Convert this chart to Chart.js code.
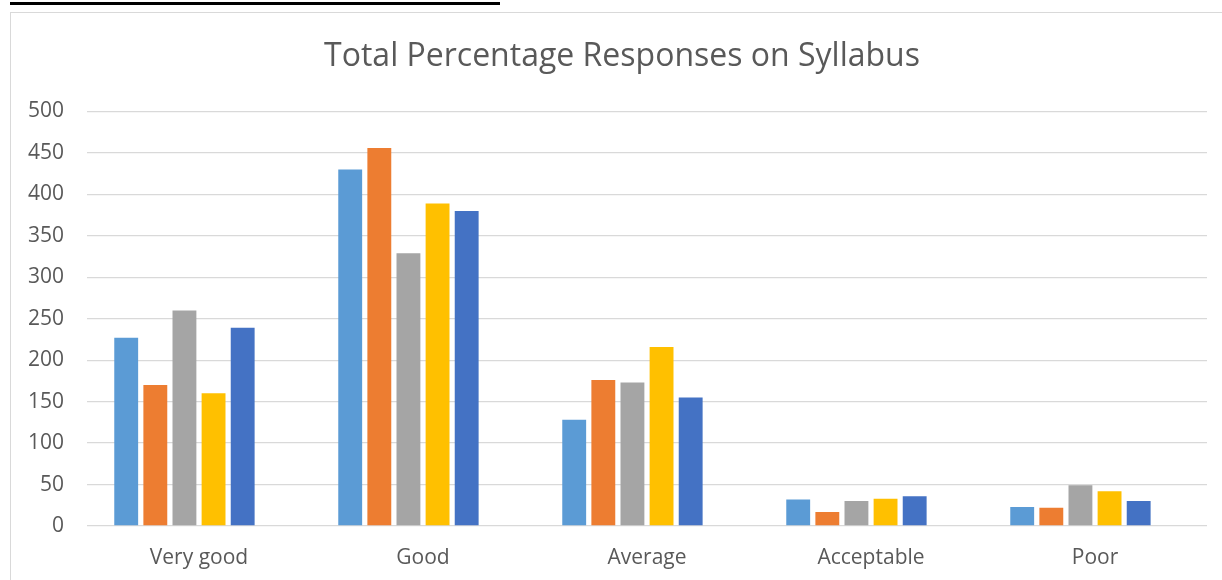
<!DOCTYPE html>
<html>
<head>
<meta charset="utf-8">
<script src="https://cdn.jsdelivr.net/npm/chart.js@4.4.1/dist/chart.umd.min.js"></script>
<style>
  html, body { margin: 0; padding: 0; background: #ffffff; overflow: hidden; }
  #topbar { position: absolute; left: 10px; top: 2px; width: 490px; height: 3px; background: #000; }
  #frame { position: absolute; left: 10px; top: 12px; width: 1240px; height: 600px; border: 1px solid #d9d9d9; box-sizing: border-box; }
  #wrap { position: absolute; left: 0; top: 0; width: 1222px; height: 580px; }
</style>
</head>
<body>
<div id="topbar"></div>
<div id="frame"></div>
<div id="wrap"><canvas id="c" width="1222" height="580"></canvas></div>
<script>
const titleText = "Total Percentage Responses on Syllabus";
const categories = ["Very good", "Good", "Average", "Acceptable", "Poor"];
const seriesNames = ["Series1", "Series2", "Series3", "Series4", "Series5", "Series6"];
const series1 = [227, 430, 128, 32, 23];
const series2 = [170, 456, 176, 17, 22];
const series3 = [260, 329, 173, 30, 49];
const series4 = [160, 389, 216, 33, 42];
const series5 = [239, 380, 155, 36, 30];
const series6 = [null, null, null, null, null]; // empty series (blank column in source)
const colors = ["#5B9BD5", "#ED7D31", "#A5A5A5", "#FFC000", "#4472C4", "#264478"];
const yMin = 0, yMax = 500, yStep = 50;

const allSeries = [series1, series2, series3, series4, series5, series6];
const datasets = allSeries.map((vals, i) => ({
  label: seriesNames[i],
  data: vals,
  backgroundColor: colors[i],
  borderWidth: 0,
  categoryPercentage: 0.78,
  barPercentage: 0.82
}));

new Chart(document.getElementById('c'), {
  type: 'bar',
  data: { labels: categories, datasets },
  options: {
    responsive: false,
    animation: false,
    devicePixelRatio: 1,
    layout: { padding: { top: 38, right: -22, bottom: 0, left: 0 } },
    plugins: {
      legend: { display: false },
      tooltip: { enabled: false },
      title: {
        display: true,
        text: titleText,
        color: '#595959',
        font: { family: 'Open Sans', size: 32, weight: 'normal', lineHeight: 1.2 },
        padding: { top: 0, bottom: 35 }
      }
    },
    scales: {
      x: {
        grid: { display: false, drawTicks: false },
        border: { display: false },
        ticks: { color: '#595959', font: { family: 'Open Sans', size: 21 }, padding: 19, maxRotation: 0 },
        afterFit: s => { s.height = 54; }
      },
      y: {
        min: yMin, max: yMax,
        grid: { color: '#d9d9d9', lineWidth: 1.3, drawTicks: false },
        border: { display: false },
        ticks: { stepSize: yStep, color: '#595959', font: { family: 'Open Sans', size: 21 }, padding: 23 },
        afterFit: s => { s.width = 87; }
      },
      yRight: {
        position: 'right',
        min: yMin, max: yMax,
        grid: { display: false, drawTicks: false },
        border: { display: false },
        ticks: { display: false },
        afterFit: s => { s.width = 37; }
      }
    }
  }
});
</script>
</body>
</html>
